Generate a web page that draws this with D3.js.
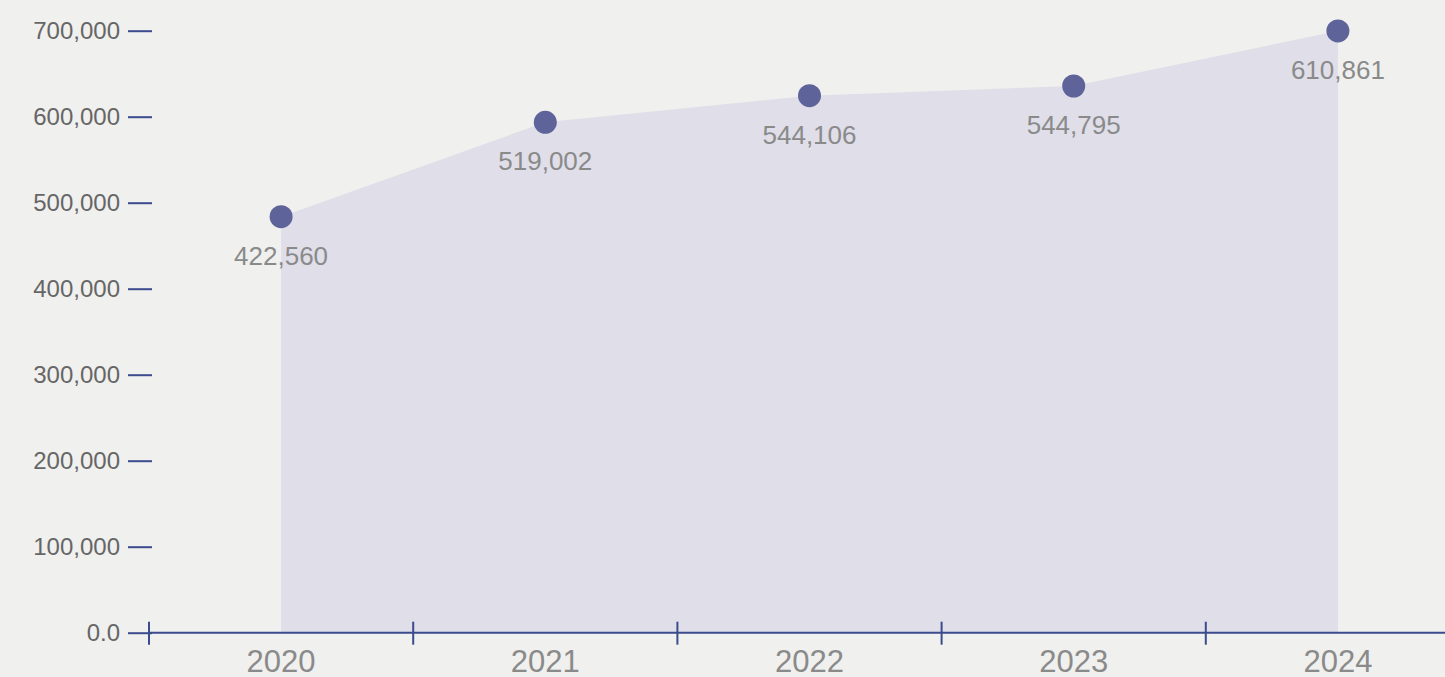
<!DOCTYPE html>
<html>
<head>
<meta charset="utf-8">
<script src="https://cdn.jsdelivr.net/npm/d3@7"></script>
<style>
  html, body { margin: 0; padding: 0; background: #f0f0ee; overflow: hidden; }
  svg { display: block; font-family: "Liberation Sans", Arial, sans-serif; }
</style>
</head>
<body>
<svg></svg>
<script>
const width = 1445;
const height = 677;

// data
const years = ["2020", "2021", "2022", "2023", "2024"];
const values = [483700, 593500, 624400, 635700, 699700];   // plotted height
const labels = [422560, 519002, 544106, 544795, 610861];   // printed numbers
const yTicks = [0, 100000, 200000, 300000, 400000, 500000, 600000, 700000];

const svg = d3.select("svg")
    .attr("width", width)
    .attr("height", height);

const x = d3.scaleBand()
    .domain(years)
    .range([149, 149 + 5 * 264.2])
    .padding(0);

const y = d3.scaleLinear()
    .domain([0, 700000])
    .range([632.7, 30.7]);

const cx = d => x(d) + x.bandwidth() / 2;

// shaded area under the points
const area = d3.area()
    .x((d, i) => cx(years[i]))
    .y0(y(0))
    .y1(d => y(d));

svg.append("path")
    .datum(values)
    .attr("d", area)
    .attr("fill", "#dfdee9");

// y axis: ticks only, no domain line
const yAxis = svg.append("g")
    .attr("transform", "translate(152,0)")
    .call(d3.axisLeft(y)
        .tickValues(yTicks)
        .tickSize(24)
        .tickPadding(8)
        .tickFormat(d => d === 0 ? "0.0" : d3.format(",")(d)));

yAxis.select(".domain").remove();
yAxis.selectAll(".tick line").attr("stroke", "#3b4b8e").attr("stroke-width", 2);
yAxis.selectAll(".tick text")
    .attr("fill", "#666666")
    .style("font-size", "24px")
    .style("font-family", "Liberation Sans, Arial, sans-serif");

// x axis line with ticks at band edges
svg.append("line")
    .attr("x1", x(years[0]))
    .attr("x2", width)
    .attr("y1", y(0))
    .attr("y2", y(0))
    .attr("stroke", "#3b4b8e")
    .attr("stroke-width", 2);

svg.selectAll(".xtick")
    .data(years)
    .enter().append("line")
    .attr("class", "xtick")
    .attr("x1", d => x(d))
    .attr("x2", d => x(d))
    .attr("y1", y(0) - 11)
    .attr("y2", y(0) + 12)
    .attr("stroke", "#3b4b8e")
    .attr("stroke-width", 2);

svg.selectAll(".xlabel")
    .data(years)
    .enter().append("text")
    .attr("class", "xlabel")
    .attr("x", d => cx(d))
    .attr("y", 672)
    .attr("text-anchor", "middle")
    .attr("fill", "#8a8a8a")
    .style("font-size", "31px")
    .text(d => d);

// points
svg.selectAll(".dot")
    .data(values)
    .enter().append("circle")
    .attr("class", "dot")
    .attr("cx", (d, i) => cx(years[i]))
    .attr("cy", d => y(d))
    .attr("r", 11.5)
    .attr("fill", "#5e6399");

// value labels under the points
svg.selectAll(".vlabel")
    .data(labels)
    .enter().append("text")
    .attr("class", "vlabel")
    .attr("x", (d, i) => cx(years[i]))
    .attr("y", (d, i) => y(values[i]) + 48)
    .attr("text-anchor", "middle")
    .attr("fill", "#8a8a8a")
    .style("font-size", "26px")
    .text(d => d3.format(",")(d));
</script>
</body>
</html>
